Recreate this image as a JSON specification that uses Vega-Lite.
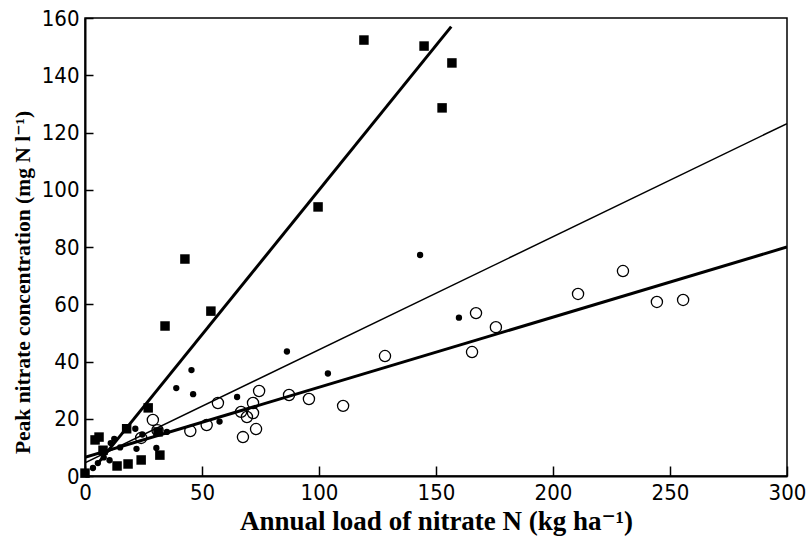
{
  "$schema": "https://vega.github.io/schema/vega-lite/v6.json",
  "width": 702,
  "height": 458,
  "autosize": {"type": "none"},
  "padding": {"left": 85, "top": 18, "right": 23, "bottom": 65},
  "background": "white",
  "config": {
    "view": {"stroke": "black", "strokeWidth": 1.5},
    "axis": {
      "domainColor": "black", "domainWidth": 2, "tickColor": "black", "tickWidth": 1.5,
      "grid": false, "labelFont": "Liberation Sans Narrow, DejaVu Sans Condensed, Liberation Sans, sans-serif",
      "labelFontSize": 22, "labelColor": "black", "labelFlush": false,
      "titleFont": "Liberation Serif, DejaVu Serif, serif",
      "titleFontWeight": "bold", "titleColor": "black"
    }
  },
  "datasets": {
    "points": [
      {"series": "square", "load": 0, "conc": 1},
      {"series": "square", "load": 4.3, "conc": 12.6},
      {"series": "square", "load": 6, "conc": 13.6},
      {"series": "square", "load": 7.7, "conc": 9},
      {"series": "square", "load": 13.7, "conc": 3.5},
      {"series": "square", "load": 18.4, "conc": 4.2},
      {"series": "square", "load": 24, "conc": 5.6},
      {"series": "square", "load": 17.8, "conc": 16.5},
      {"series": "square", "load": 27, "conc": 23.8},
      {"series": "square", "load": 31.2, "conc": 15.4},
      {"series": "square", "load": 32, "conc": 7.3},
      {"series": "square", "load": 34.2, "conc": 52.4},
      {"series": "square", "load": 42.7, "conc": 75.8},
      {"series": "square", "load": 53.8, "conc": 57.6},
      {"series": "square", "load": 99.6, "conc": 94},
      {"series": "square", "load": 119.2, "conc": 152.3},
      {"series": "square", "load": 144.9, "conc": 150.2},
      {"series": "square", "load": 152.6, "conc": 128.6},
      {"series": "square", "load": 156.8, "conc": 144.3},
      {"series": "dot", "load": 3.4, "conc": 2.8},
      {"series": "dot", "load": 5.5, "conc": 4.5},
      {"series": "dot", "load": 8, "conc": 6.5},
      {"series": "dot", "load": 10.5, "conc": 5.5},
      {"series": "dot", "load": 11, "conc": 11.5},
      {"series": "dot", "load": 12.5, "conc": 13},
      {"series": "dot", "load": 15, "conc": 10},
      {"series": "dot", "load": 21.5, "conc": 16.5},
      {"series": "dot", "load": 22, "conc": 9.5},
      {"series": "dot", "load": 24.5, "conc": 14.5},
      {"series": "dot", "load": 30.5, "conc": 9.8},
      {"series": "dot", "load": 35, "conc": 15.4},
      {"series": "dot", "load": 39, "conc": 30.7},
      {"series": "dot", "load": 45.5, "conc": 37},
      {"series": "dot", "load": 46.2, "conc": 28.6},
      {"series": "dot", "load": 57.5, "conc": 19},
      {"series": "dot", "load": 65, "conc": 27.6},
      {"series": "dot", "load": 86.3, "conc": 43.5},
      {"series": "dot", "load": 103.8, "conc": 35.8},
      {"series": "dot", "load": 143.2, "conc": 77.2},
      {"series": "dot", "load": 159.8, "conc": 55.3},
      {"series": "open", "load": 24, "conc": 13.3},
      {"series": "open", "load": 29, "conc": 19.6},
      {"series": "open", "load": 31, "conc": 16},
      {"series": "open", "load": 45, "conc": 15.7},
      {"series": "open", "load": 52, "conc": 17.8},
      {"series": "open", "load": 56.8, "conc": 25.5},
      {"series": "open", "load": 66.7, "conc": 22.4},
      {"series": "open", "load": 67.5, "conc": 13.6},
      {"series": "open", "load": 69.2, "conc": 20.6},
      {"series": "open", "load": 71.8, "conc": 25.5},
      {"series": "open", "load": 71.8, "conc": 22},
      {"series": "open", "load": 73.1, "conc": 16.4},
      {"series": "open", "load": 74.4, "conc": 29.7},
      {"series": "open", "load": 87.2, "conc": 28.3},
      {"series": "open", "load": 95.7, "conc": 26.9},
      {"series": "open", "load": 110.3, "conc": 24.5},
      {"series": "open", "load": 128.2, "conc": 41.9},
      {"series": "open", "load": 165.4, "conc": 43.3},
      {"series": "open", "load": 167.1, "conc": 56.9},
      {"series": "open", "load": 175.6, "conc": 52},
      {"series": "open", "load": 210.7, "conc": 63.6},
      {"series": "open", "load": 229.9, "conc": 71.6},
      {"series": "open", "load": 244.4, "conc": 60.8},
      {"series": "open", "load": 255.6, "conc": 61.5}
    ],
    "lines": [
      {"line": "steep", "load": 5, "conc": 3.9},
      {"line": "steep", "load": 156.5, "conc": 157},
      {"line": "all", "load": 0, "conc": 4.6},
      {"line": "all", "load": 300, "conc": 123.1},
      {"line": "open", "load": 0, "conc": 6.5},
      {"line": "open", "load": 300, "conc": 80}
    ]
  },
  "encoding": {
    "x": {"field": "load", "type": "quantitative",
      "scale": {"domain": [0, 300], "nice": false},
      "axis": {"values": [0, 50, 100, 150, 200, 250, 300], "tickSize": -10, "labelPadding": 16,
        "title": "Annual load of nitrate N (kg ha⁻¹)", "titlePadding": 5, "titleFontSize": 27}},
    "y": {"field": "conc", "type": "quantitative",
      "scale": {"domain": [0, 160], "nice": false},
      "axis": {"values": [0, 20, 40, 60, 80, 100, 120, 140, 160], "tickSize": -8, "labelPadding": 14,
        "title": "Peak nitrate concentration (mg N l⁻¹)", "titlePadding": 7, "titleFontSize": 21.5, "titleY": 264}}
  },
  "layer": [
    {
      "data": {"name": "lines"},
      "transform": [{"filter": "datum.line !== 'all'"}],
      "mark": {"type": "line", "color": "black", "strokeWidth": 3, "clip": true},
      "encoding": {"detail": {"field": "line"}}
    },
    {
      "data": {"name": "lines"},
      "transform": [{"filter": "datum.line === 'all'"}],
      "mark": {"type": "line", "color": "black", "strokeWidth": 1.5, "clip": true},
      "encoding": {}
    },
    {
      "data": {"name": "points"},
      "transform": [{"filter": "datum.series === 'open'"}],
      "mark": {"type": "point", "shape": "circle", "size": 125, "filled": false, "color": "black", "strokeWidth": 1.3, "fill": "white", "fillOpacity": 0, "opacity": 1}
    },
    {
      "data": {"name": "points"},
      "transform": [{"filter": "datum.series === 'dot'"}],
      "mark": {"type": "point", "shape": "circle", "size": 40, "filled": true, "color": "black", "opacity": 1}
    },
    {
      "data": {"name": "points"},
      "transform": [{"filter": "datum.series === 'square'"}],
      "mark": {"type": "point", "shape": "square", "size": 90, "filled": true, "color": "black", "opacity": 1}
    }
  ]
}
